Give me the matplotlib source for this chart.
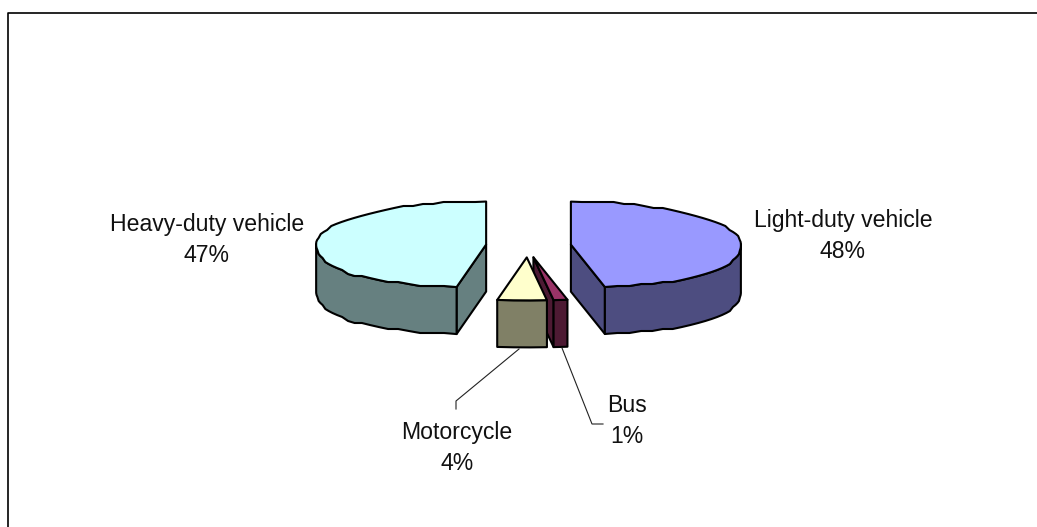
import numpy as np
import matplotlib
matplotlib.use("Agg")
import matplotlib.pyplot as plt
from matplotlib.patches import Polygon

# ---- data ----
categories = ["Light-duty vehicle", "Bus", "Motorcycle", "Heavy-duty vehicle"]
shares = [47.6, 1.1, 3.9, 47.4]

# ---- style ----
top_colors = ["#9999FF", "#993366", "#FFFFCC", "#CCFFFF"]
side_colors = ["#4D4D80", "#4D1A33", "#808066", "#668080"]
draw_order = [3, 0, 1, 2]
W, H = 1037, 527
CX, CY = 528.5, 245.5
RX, RY, DEPTH = 170.0, 43.0, 47.0
EXPLODE = 42.5
EXPLODE_Y = 0.28
PERSP = 0.2
SKEW = np.radians(1.0)
STEP = np.radians(3.5)
GRID = 2.0
LW = 1.5

plt.rcParams["font.family"] = ["Liberation Sans", "DejaVu Sans"]
fig = plt.figure(figsize=(W / 100, H / 100), dpi=100, facecolor="white")
ax = fig.add_axes([0, 0, 1, 1])
ax.set_xlim(0, W)
ax.set_ylim(H, 0)
ax.axis("off")


def rim(theta, ax0, ay0):
    c = np.cos(theta)
    t = theta - SKEW * (1 - c) / 2
    f = 1 + PERSP * np.maximum(0.0, -c) ** 2
    return ax0 + RX * np.sin(t) * f, ay0 - RY * np.cos(t)


fractions = np.array(shares) / sum(shares)
edges = np.concatenate([[0], np.cumsum(fractions)]) * 2 * np.pi

for i in draw_order:
    t0, t1 = edges[i], edges[i + 1]
    mid = (t0 + t1) / 2
    ax0 = CX + EXPLODE * np.sin(mid)
    ay0 = CY - EXPLODE * EXPLODE_Y * np.cos(mid)
    n = max(3, int((t1 - t0) / STEP))
    th = np.linspace(t0, t1, n)
    for extra in (np.pi / 2, 3 * np.pi / 2):
        if t0 < extra < t1:
            th = np.sort(np.r_[th, extra])
    x, y = rim(th, ax0, ay0)
    if n > 10:
        yw = np.round(y / GRID) * GRID
        yw[0], yw[-1] = y[0], y[-1]
    else:
        yw = y
    xe0, ye0 = rim(t0, ax0, ay0)
    xe1, ye1 = rim(t1, ax0, ay0)

    def face(a, b):
        return [(ax0, ay0), (a, b), (a, b + DEPTH), (ax0, ay0 + DEPTH)]

    faces = {0: [face(xe1, ye1)], 1: [face(xe1, ye1)], 3: [face(xe0, ye0)]}.get(i, [])
    for pts in faces:
        ax.add_patch(Polygon(pts, closed=True, fc=side_colors[i], ec="black", lw=LW, joinstyle="round"))

    front = np.cos(th) <= 1e-9
    xf, yf = x[front], yw[front]
    if len(xf) > 1:
        wall = np.column_stack([np.r_[xf, xf[::-1]], np.r_[yf, (yf + DEPTH)[::-1]]])
        ax.add_patch(Polygon(wall, closed=True, fc=side_colors[i], ec="black", lw=LW, joinstyle="round"))

    top = np.column_stack([np.r_[ax0, x], np.r_[ay0, yw]])
    ax.add_patch(Polygon(top, closed=True, fc=top_colors[i], ec="black", lw=LW, joinstyle="round"))

# ---- labels ----
label_pos = {
    "Light-duty vehicle": (843, 236),
    "Bus": (627, 421),
    "Motorcycle": (457, 448),
    "Heavy-duty vehicle": (207, 240),
}
for name, share in zip(categories, shares):
    lx, ly = label_pos[name]
    ax.text(lx, ly, f"{name}\n{round(share):d}%", ha="center", va="center",
            fontsize=16.6, color="#111111", linespacing=1.46,
            family=["Liberation Sans", "DejaVu Sans"])

# leader lines
ax.plot([519, 456, 456], [349, 401, 409], color="#222222", lw=0.8)
ax.plot([562, 592, 603], [348, 424, 424], color="#222222", lw=0.8)

# frame: left and top edges only
ax.plot([8, 8, W], [H, 12.5, 12.5], color="black", lw=1.2)

fig.savefig("out.png", dpi=100, facecolor="white")
